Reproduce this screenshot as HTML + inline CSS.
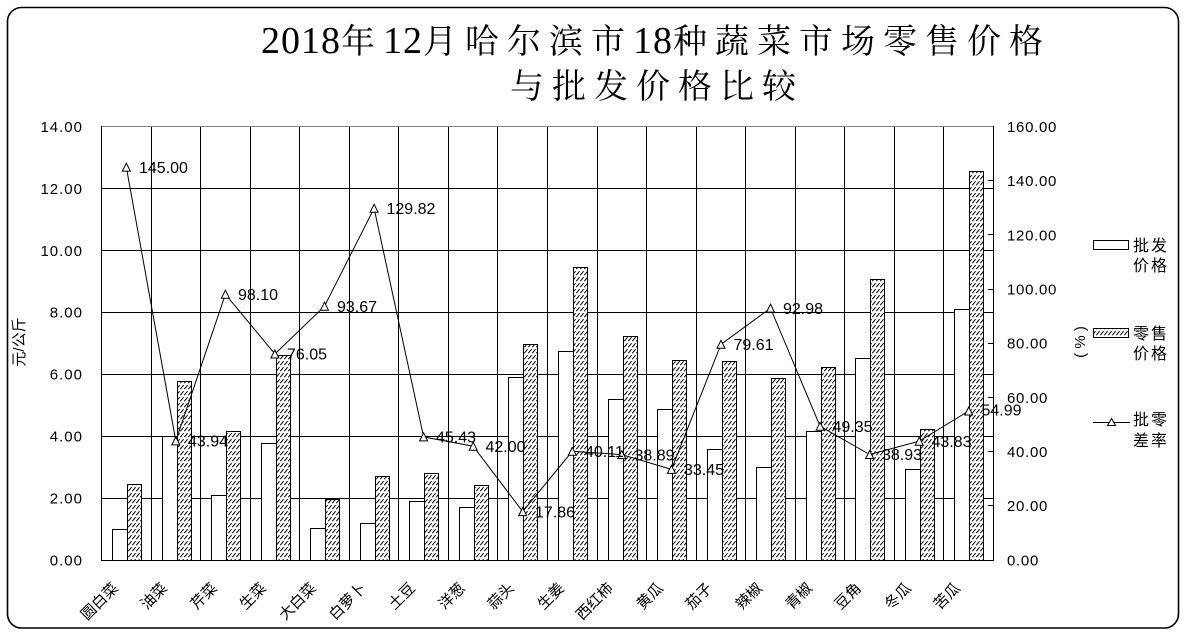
<!DOCTYPE html>
<html><head><meta charset="utf-8"><style>
html,body{margin:0;padding:0;background:#fff;}
svg{display:block;}
.ax{font-family:"Liberation Sans",sans-serif;font-size:15px;fill:#000;letter-spacing:1px;}
.dl{font-family:"Liberation Sans",sans-serif;font-size:16px;fill:#000;}
.cj{font-family:"Liberation Sans","Noto Sans CJK SC",sans-serif;fill:#000;}
</style></head><body>
<svg width="1189" height="637" viewBox="0 0 1189 637" xmlns="http://www.w3.org/2000/svg">
<defs>
<pattern id="h" patternUnits="userSpaceOnUse" width="4" height="6">
<rect width="4" height="6" fill="#fff"/>
<path d="M0.3,5.2 L3.6,1.2" stroke="#000" stroke-width="1"/>
</pattern>
</defs>
<rect width="1189" height="637" fill="#fff"/>
<rect x="7.5" y="7.5" width="1171" height="620.5" rx="14" ry="14" fill="#fff" stroke="#000" stroke-width="1.6"/>

<!-- Title -->
<text y="53" x="261" fill="#000"><tspan font-family="Liberation Serif" font-size="38" letter-spacing="1">2018</tspan><tspan font-family="'Noto Serif CJK SC',serif" font-size="34" letter-spacing="8">年</tspan><tspan font-family="Liberation Serif" font-size="38" letter-spacing="1">12</tspan><tspan font-family="'Noto Serif CJK SC',serif" font-size="34" letter-spacing="8">月哈尔滨市</tspan><tspan font-family="Liberation Serif" font-size="38" letter-spacing="1">18</tspan><tspan font-family="'Noto Serif CJK SC',serif" font-size="34" letter-spacing="8">种蔬菜市场零售价格</tspan></text>
<text y="98" x="510" fill="#000" font-family="'Liberation Serif','Noto Serif CJK SC',serif" font-size="34" letter-spacing="8">与批发价格比较</text>

<!-- Horizontal gridlines -->
<g stroke="#000" stroke-width="1" shape-rendering="crispEdges">
<line x1="101" y1="498.5" x2="993" y2="498.5"/>
<line x1="101" y1="436.5" x2="993" y2="436.5"/>
<line x1="101" y1="374.5" x2="993" y2="374.5"/>
<line x1="101" y1="312.5" x2="993" y2="312.5"/>
<line x1="101" y1="250.5" x2="993" y2="250.5"/>
<line x1="101" y1="188.5" x2="993" y2="188.5"/>
<!-- vertical gridlines -->
<line x1="151.5" y1="127" x2="151.5" y2="560"/>
<line x1="200.5" y1="127" x2="200.5" y2="560"/>
<line x1="250.5" y1="127" x2="250.5" y2="560"/>
<line x1="299.5" y1="127" x2="299.5" y2="560"/>
<line x1="349.5" y1="127" x2="349.5" y2="560"/>
<line x1="398.5" y1="127" x2="398.5" y2="560"/>
<line x1="448.5" y1="127" x2="448.5" y2="560"/>
<line x1="497.5" y1="127" x2="497.5" y2="560"/>
<line x1="547.5" y1="127" x2="547.5" y2="560"/>
<line x1="597.5" y1="127" x2="597.5" y2="560"/>
<line x1="646.5" y1="127" x2="646.5" y2="560"/>
<line x1="696.5" y1="127" x2="696.5" y2="560"/>
<line x1="745.5" y1="127" x2="745.5" y2="560"/>
<line x1="795.5" y1="127" x2="795.5" y2="560"/>
<line x1="844.5" y1="127" x2="844.5" y2="560"/>
<line x1="894.5" y1="127" x2="894.5" y2="560"/>
<line x1="943.5" y1="127" x2="943.5" y2="560"/>
</g>

<!-- Wholesale bars (white) -->
<g fill="#fff" stroke="#000" stroke-width="1" shape-rendering="crispEdges">
<rect x="112.5" y="529.5" width="15" height="31"/>
<rect x="162.5" y="436.5" width="15" height="124"/>
<rect x="211.5" y="495.5" width="15" height="65"/>
<rect x="261.5" y="443.5" width="15" height="117"/>
<rect x="310.5" y="528.5" width="15" height="32"/>
<rect x="360.5" y="523.5" width="15" height="37"/>
<rect x="409.5" y="501.5" width="15" height="59"/>
<rect x="459.5" y="507.5" width="15" height="53"/>
<rect x="508.5" y="377.5" width="15" height="183"/>
<rect x="558.5" y="351.5" width="15" height="209"/>
<rect x="608.5" y="399.5" width="15" height="161"/>
<rect x="657.5" y="409.5" width="15" height="151"/>
<rect x="707.5" y="449.5" width="15" height="111"/>
<rect x="756.5" y="467.5" width="15" height="93"/>
<rect x="806.5" y="431.5" width="15" height="129"/>
<rect x="855.5" y="358.5" width="15" height="202"/>
<rect x="905.5" y="469.5" width="15" height="91"/>
<rect x="954.5" y="309.5" width="15" height="251"/>
</g>
<!-- Retail bars (hatched) -->
<g fill="url(#h)" stroke="#000" stroke-width="1" shape-rendering="crispEdges">
<rect x="127.5" y="484.5" width="14" height="76"/>
<rect x="177.5" y="381.5" width="14" height="179"/>
<rect x="226.5" y="431.5" width="14" height="129"/>
<rect x="276.5" y="355.5" width="14" height="205"/>
<rect x="325.5" y="499.5" width="14" height="61"/>
<rect x="375.5" y="476.5" width="14" height="84"/>
<rect x="424.5" y="473.5" width="14" height="87"/>
<rect x="474.5" y="485.5" width="14" height="75"/>
<rect x="523.5" y="344.5" width="14" height="216"/>
<rect x="573.5" y="267.5" width="14" height="293"/>
<rect x="623.5" y="336.5" width="14" height="224"/>
<rect x="672.5" y="360.5" width="14" height="200"/>
<rect x="722.5" y="361.5" width="14" height="199"/>
<rect x="771.5" y="378.5" width="14" height="182"/>
<rect x="821.5" y="367.5" width="14" height="193"/>
<rect x="870.5" y="279.5" width="14" height="281"/>
<rect x="920.5" y="429.5" width="14" height="131"/>
<rect x="969.5" y="171.5" width="14" height="389"/>
</g>

<!-- Axes -->
<g shape-rendering="crispEdges" stroke-width="1">
<line x1="101" y1="126.5" x2="993" y2="126.5" stroke="#808080"/>
<line x1="101.5" y1="126" x2="101.5" y2="561" stroke="#000"/>
<line x1="993.5" y1="126" x2="993.5" y2="561" stroke="#000"/>
<line x1="101" y1="560.5" x2="994" y2="560.5" stroke="#000"/>
<g stroke="#000">
<line x1="988" y1="505.5" x2="993" y2="505.5"/>
<line x1="988" y1="451.5" x2="993" y2="451.5"/>
<line x1="988" y1="397.5" x2="993" y2="397.5"/>
<line x1="988" y1="343.5" x2="993" y2="343.5"/>
<line x1="988" y1="289.5" x2="993" y2="289.5"/>
<line x1="988" y1="234.5" x2="993" y2="234.5"/>
<line x1="988" y1="180.5" x2="993" y2="180.5"/>
</g>
</g>

<!-- Rate line -->
<polyline fill="none" stroke="#000" stroke-width="1" points="126.3,167.1 175.8,440.9 225.4,294.2 274.9,354.0 324.5,306.2 374.1,208.3 423.6,436.9 473.2,446.2 522.7,511.6 572.3,451.3 621.8,454.6 671.4,469.4 721.0,344.3 770.5,308.1 820.1,426.3 869.6,454.5 919.2,441.2 968.7,411.0"/>
<g fill="#fff" stroke="#000" stroke-width="1">
<path d="M126.3,163.1 L130.3,171.1 L122.3,171.1 Z"/>
<path d="M175.8,436.9 L179.8,444.9 L171.8,444.9 Z"/>
<path d="M225.4,290.2 L229.4,298.2 L221.4,298.2 Z"/>
<path d="M274.9,350.0 L278.9,358.0 L270.9,358.0 Z"/>
<path d="M324.5,302.2 L328.5,310.2 L320.5,310.2 Z"/>
<path d="M374.1,204.3 L378.1,212.3 L370.1,212.3 Z"/>
<path d="M423.6,432.9 L427.6,440.9 L419.6,440.9 Z"/>
<path d="M473.2,442.2 L477.2,450.2 L469.2,450.2 Z"/>
<path d="M522.7,507.6 L526.7,515.6 L518.7,515.6 Z"/>
<path d="M572.3,447.3 L576.3,455.3 L568.3,455.3 Z"/>
<path d="M621.8,450.6 L625.8,458.6 L617.8,458.6 Z"/>
<path d="M671.4,465.4 L675.4,473.4 L667.4,473.4 Z"/>
<path d="M721.0,340.3 L725.0,348.3 L717.0,348.3 Z"/>
<path d="M770.5,304.1 L774.5,312.1 L766.5,312.1 Z"/>
<path d="M820.1,422.3 L824.1,430.3 L816.1,430.3 Z"/>
<path d="M869.6,450.5 L873.6,458.5 L865.6,458.5 Z"/>
<path d="M919.2,437.2 L923.2,445.2 L915.2,445.2 Z"/>
<path d="M968.7,407.0 L972.7,415.0 L964.7,415.0 Z"/>
</g>

<!-- Data labels -->
<g class="dl">
<text x="139" y="172.8">145.00</text>
<text x="188" y="446.6">43.94</text>
<text x="238" y="299.9">98.10</text>
<text x="287" y="359.7">76.05</text>
<text x="337" y="311.9">93.67</text>
<text x="386.5" y="214.0">129.82</text>
<text x="436" y="442.6">45.43</text>
<text x="485.5" y="451.9">42.00</text>
<text x="535" y="517.3">17.86</text>
<text x="585" y="457.0">40.11</text>
<text x="634.5" y="460.3">38.89</text>
<text x="684" y="475.1">33.45</text>
<text x="733.5" y="350.0">79.61</text>
<text x="783" y="313.8">92.98</text>
<text x="832.5" y="432.0">49.35</text>
<text x="882" y="460.2">38.93</text>
<text x="931.5" y="446.9">43.83</text>
<text x="981.5" y="415.7">54.99</text>
</g>

<!-- Left axis labels -->
<g class="ax" text-anchor="end">
<text x="83" y="565.4">0.00</text>
<text x="83" y="503.5">2.00</text>
<text x="83" y="441.5">4.00</text>
<text x="83" y="379.6">6.00</text>
<text x="83" y="317.7">8.00</text>
<text x="83" y="255.8">10.00</text>
<text x="83" y="193.8">12.00</text>
<text x="83" y="131.9">14.00</text>
</g>
<!-- Right axis labels -->
<g class="ax" style="letter-spacing:0.7px">
<text x="1007" y="565.4">0.00</text>
<text x="1007" y="511.2">20.00</text>
<text x="1007" y="457.0">40.00</text>
<text x="1007" y="402.8">60.00</text>
<text x="1007" y="348.7">80.00</text>
<text x="1007" y="294.5">100.00</text>
<text x="1007" y="240.3">120.00</text>
<text x="1007" y="186.1">140.00</text>
<text x="1007" y="131.9">160.00</text>
</g>

<!-- Axis titles -->
<text class="cj" font-size="15" text-anchor="middle" transform="translate(24,342) rotate(-90)">元/公斤</text>
<text font-family="Liberation Sans,sans-serif" font-size="15" text-anchor="middle" transform="translate(1085,342) rotate(-90)">( % )</text>

<!-- X labels -->
<g class="cj" font-size="15" text-anchor="end">
<text transform="translate(119,589) rotate(-45)">圆白菜</text>
<text transform="translate(168,589) rotate(-45)">油菜</text>
<text transform="translate(218,589) rotate(-45)">芹菜</text>
<text transform="translate(267,589) rotate(-45)">生菜</text>
<text transform="translate(317,589) rotate(-45)">大白菜</text>
<text transform="translate(367,589) rotate(-45)">白萝卜</text>
<text transform="translate(416,589) rotate(-45)">土豆</text>
<text transform="translate(466,589) rotate(-45)">洋葱</text>
<text transform="translate(515,589) rotate(-45)">蒜头</text>
<text transform="translate(565,589) rotate(-45)">生姜</text>
<text transform="translate(614,589) rotate(-45)">西红柿</text>
<text transform="translate(664,589) rotate(-45)">黄瓜</text>
<text transform="translate(713,589) rotate(-45)">茄子</text>
<text transform="translate(763,589) rotate(-45)">辣椒</text>
<text transform="translate(813,589) rotate(-45)">青椒</text>
<text transform="translate(862,589) rotate(-45)">豆角</text>
<text transform="translate(912,589) rotate(-45)">冬瓜</text>
<text transform="translate(961,589) rotate(-45)">苦瓜</text>
</g>

<!-- Legend -->
<g shape-rendering="crispEdges" stroke="#000" stroke-width="1">
<rect x="1093.5" y="240.5" width="35" height="9" fill="#fff"/>
<rect x="1093.5" y="328.5" width="35" height="9" fill="url(#h)"/>
<line x1="1093" y1="422.5" x2="1130" y2="422.5"/>
</g>
<path d="M1111.5,418.5 L1115.5,425.5 L1107.5,425.5 Z" fill="#fff" stroke="#000" stroke-width="1"/>
<g class="cj" font-size="16" letter-spacing="2">
<text x="1133" y="251">批发</text>
<text x="1133" y="271">价格</text>
<text x="1133" y="339">零售</text>
<text x="1133" y="359">价格</text>
<text x="1133" y="425">批零</text>
<text x="1133" y="446">差率</text>
</g>
</svg>
</body></html>
